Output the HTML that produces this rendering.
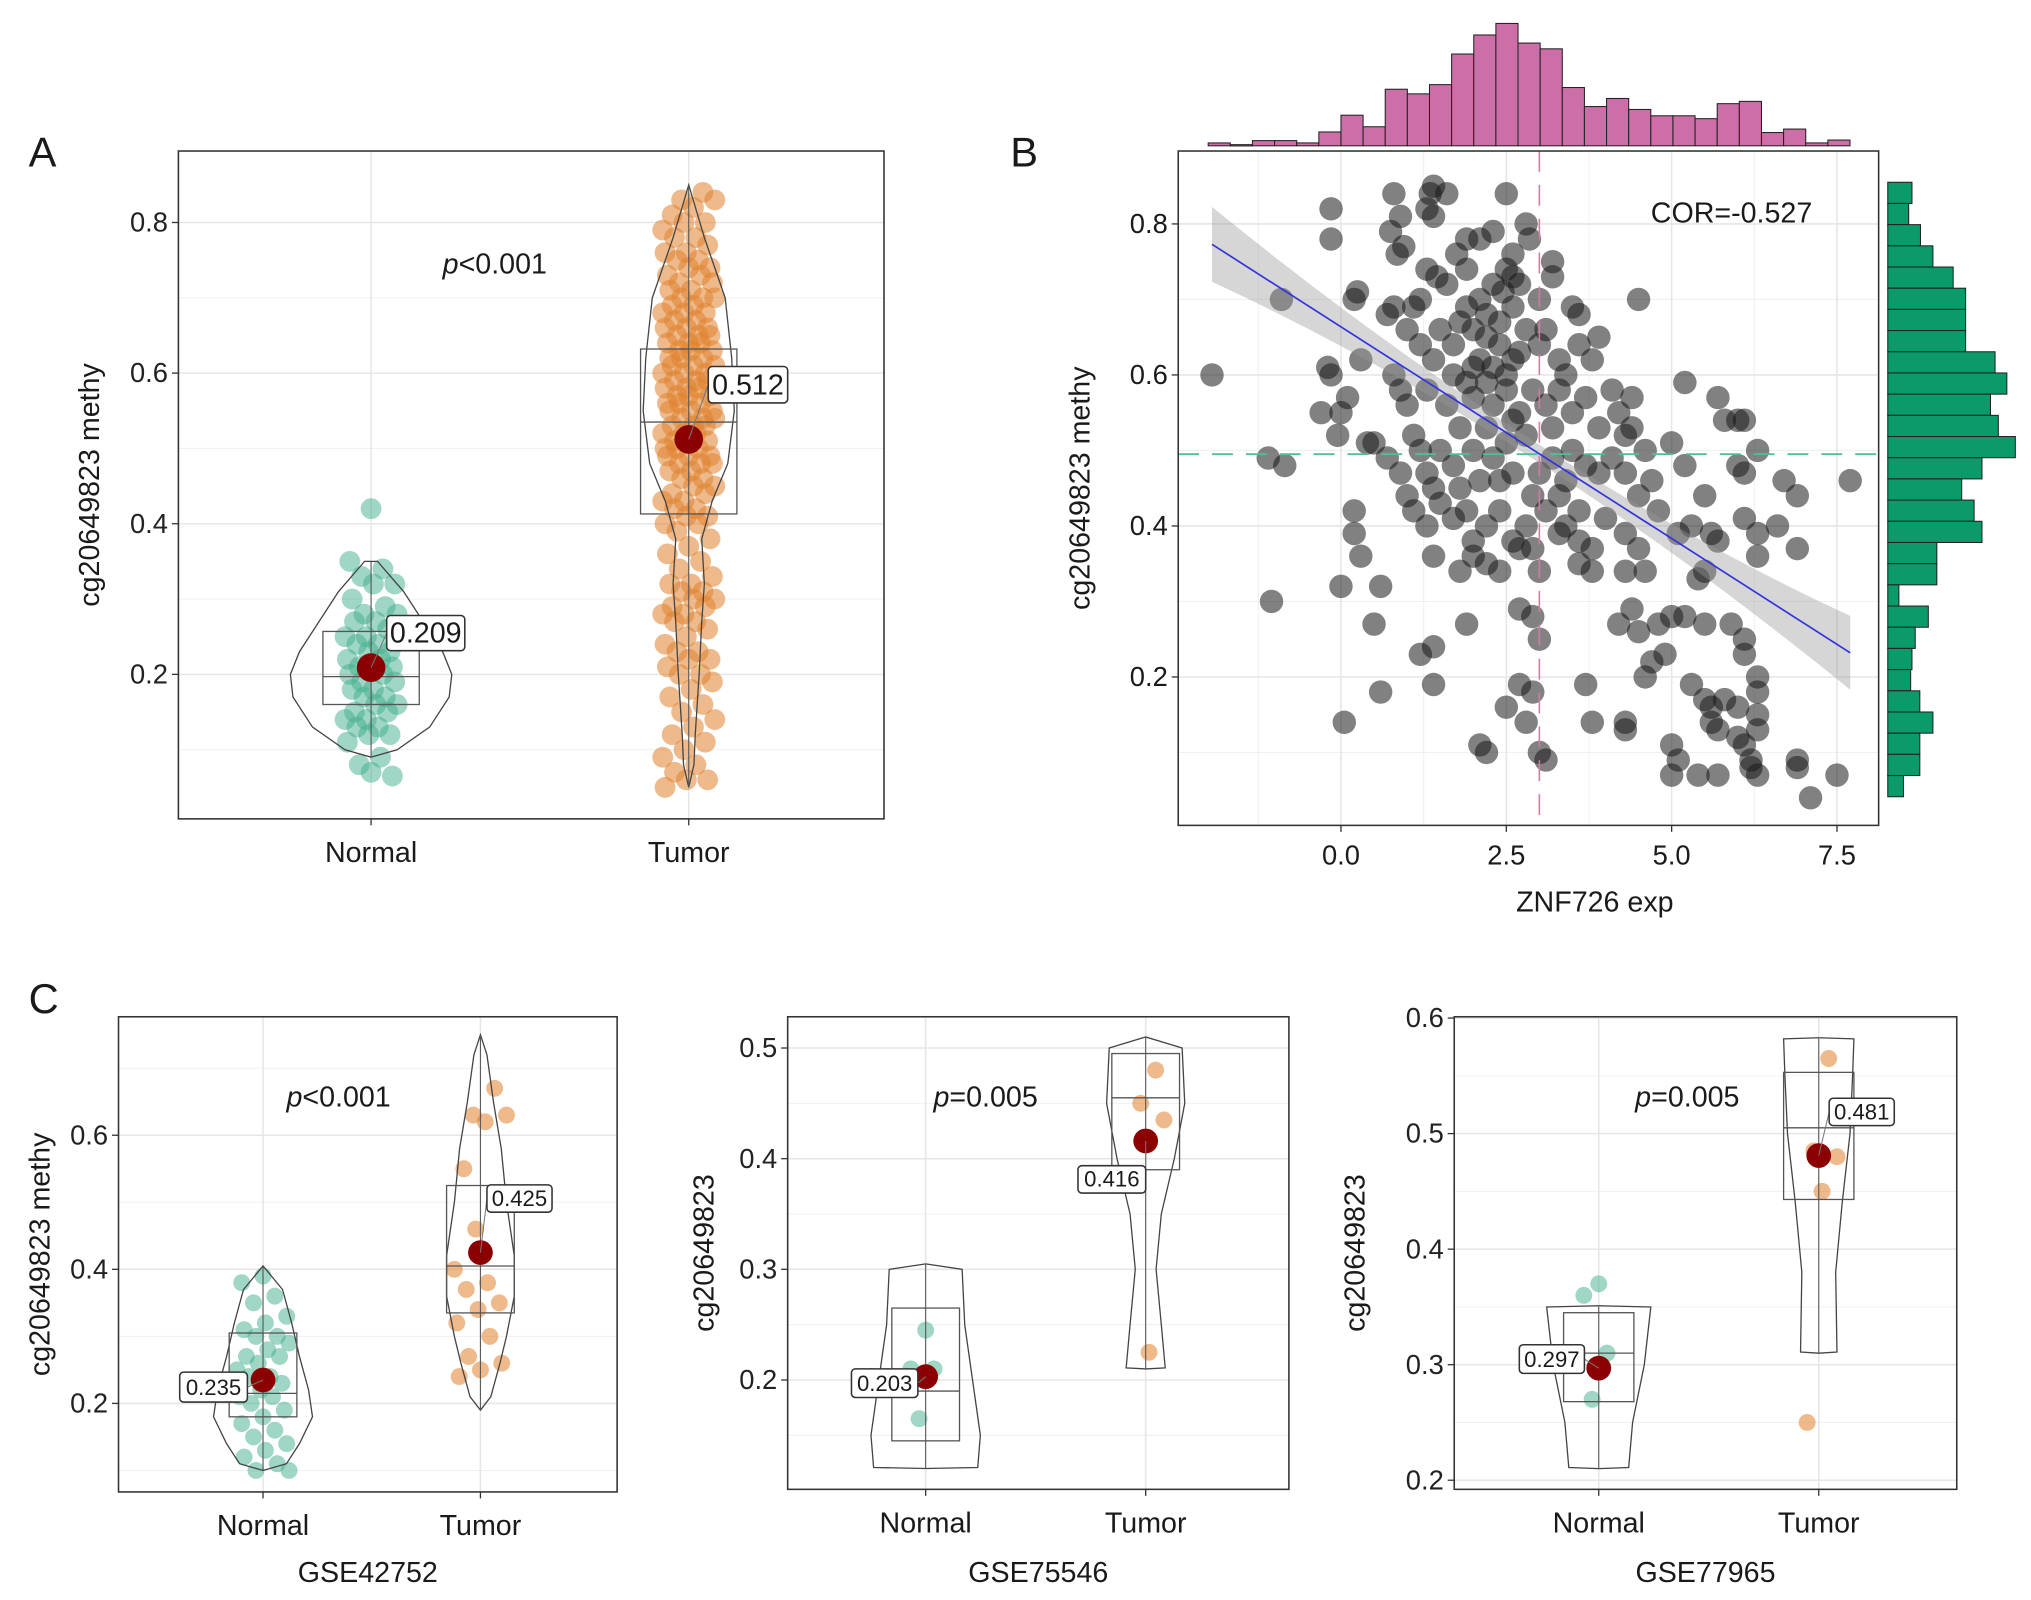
<!DOCTYPE html>
<html><head><meta charset="utf-8"><style>
html,body{margin:0;padding:0;background:#fff;}
svg{display:block;font-family:"Liberation Sans",sans-serif;}
</style></head><body>
<svg id="fig" width="2031" height="1600" viewBox="0 0 1560 1229" xmlns="http://www.w3.org/2000/svg"></svg>
<script>
// ---------- DATA ----------
const groupsA = ["Normal","Tumor"];
const normalA = [.42,.35,.34,.33,.32,.32,.30,.29,.28,.28,.27,.27,.26,.25,.25,.24,.24,.23,.23,.22,.22,.21,.21,.21,.20,.20,.19,.19,.18,.18,.17,.17,.16,.16,.15,.15,.14,.14,.13,.13,.12,.12,.11,.09,.08,.065,.07];
const tumorA = [0.84,0.83,0.83,0.82,0.81,0.80,0.80,0.79,0.78,0.78,0.77,0.76,0.76,0.75,0.75,0.74,0.74,0.73,0.73,0.72,0.72,0.71,0.71,0.70,0.70,0.70,0.69,0.69,0.68,0.68,0.68,0.67,0.67,0.66,0.66,0.66,0.65,0.65,0.65,0.64,0.64,0.64,0.63,0.63,0.63,0.62,0.62,0.62,0.61,0.61,0.61,0.60,0.60,0.60,0.59,0.59,0.59,0.58,0.58,0.58,0.57,0.57,0.57,0.56,0.56,0.56,0.55,0.55,0.55,0.54,0.54,0.54,0.53,0.53,0.53,0.52,0.52,0.52,0.51,0.51,0.51,0.50,0.50,0.50,0.49,0.49,0.49,0.48,0.48,0.48,0.47,0.47,0.46,0.46,0.45,0.45,0.44,0.44,0.43,0.43,0.42,0.42,0.41,0.41,0.40,0.40,0.39,0.38,0.37,0.36,0.35,0.34,0.33,0.32,0.32,0.31,0.31,0.30,0.30,0.29,0.29,0.28,0.28,0.27,0.27,0.26,0.25,0.24,0.23,0.23,0.22,0.22,0.21,0.20,0.20,0.19,0.18,0.17,0.16,0.15,0.14,0.13,0.12,0.11,0.10,0.09,0.08,0.07,0.06,0.06,0.05];
const statsA = [{q1:.16,med:.197,q3:.257,mean:.209,lo:.09,hi:.35},{q1:.413,med:.535,q3:.632,mean:.512,lo:.05,hi:.85}];
const violinA = [[[.09,0],[.10,20],[.13,45],[.17,60],[.20,62],[.23,55],[.27,40],[.31,25],[.35,5]],
                 [[.05,0],[.08,4],[.12,5],[.2,8],[.27,10],[.32,12],[.38,10],[.43,18],[.48,30],[.55,35],[.62,33],[.7,28],[.78,12],[.85,0]]];
const pTextA = "<0.001";

const histTopCounts = [5,2,9,9,5,24,53,33,98,90,106,159,192,212,178,168,101,68,82,63,52,52,47,73,77,23,29,5,10];
const histRightCounts = [37,32,50,69,100,119,119,119,164,182,157,169,195,144,113,132,144,75,75,17,62,42,37,35,49,69,49,49,24];
const xTicksB = [0,2.5,5,7.5];
const yTicksB = [0.2,0.4,0.6,0.8];
const corText = "COR=-0.527";
const regLine = [[-1.95,.773],[7.7,.232]];
const scatterPoints = [[-1.95,.60],[-1.1,.49],[-0.9,.70],[-0.85,.48],[-1.05,.30],[-0.15,.82],[-0.15,.78],[0.05,.14],[0.0,.32],[0.2,.42],[0.2,.39],[0.3,.36],[0.6,.32],[0.6,.18],[0.2,.70],[0.25,.71],[-0.2,.61],[-0.15,.60],[-0.3,.55],[0.0,.55],[0.1,.57],[0.3,.62],[-0.05,.52],[0.4,.51],[0.5,.51],[0.8,.84],[0.9,.81],[0.85,.76],[0.95,.77],[0.75,.79],[1.3,.82],[1.35,.84],[1.4,.85],[1.4,.81],[1.6,.84],[1.9,.78],[2.1,.78],[2.5,.84],[2.6,.76],[2.8,.80],[2.85,.78],[2.3,.79],[0.7,.68],[0.8,.69],[1.0,.66],[1.1,.69],[1.2,.70],[1.3,.74],[1.45,.73],[1.6,.72],[1.75,.76],[1.9,.74],[2.1,.70],[2.3,.72],[2.45,.71],[2.5,.74],[2.6,.73],[2.7,.72],[3.0,.70],[3.2,.75],[3.2,.73],[3.5,.69],[3.6,.68],[4.5,.70],[1.2,.64],[1.4,.62],[1.5,.66],[1.7,.64],[1.8,.67],[2.0,.66],[2.1,.62],[2.2,.68],[2.4,.64],[2.5,.60],[2.6,.62],[2.8,.66],[3.0,.64],[3.1,.66],[3.3,.62],[3.4,.60],[3.6,.64],[3.8,.62],[3.9,.65],[4.1,.58],[4.2,.55],[4.4,.57],[5.2,.59],[5.7,.57],[5.8,.54],[6.0,.54],[6.1,.54],[0.8,.60],[0.9,.58],[1.0,.56],[1.1,.52],[1.3,.58],[1.6,.56],[1.7,.60],[1.9,.59],[2.0,.57],[2.2,.59],[2.3,.56],[2.5,.58],[2.7,.55],[2.9,.58],[3.1,.56],[3.3,.58],[3.5,.55],[3.7,.57],[3.9,.53],[4.3,.52],[4.4,.53],[4.6,.50],[5.0,.51],[0.7,.49],[0.9,.47],[1.0,.44],[1.2,.50],[1.3,.47],[1.4,.45],[1.5,.50],[1.7,.48],[1.8,.45],[2.0,.50],[2.1,.46],[2.3,.49],[2.5,.51],[2.6,.47],[2.8,.52],[3.0,.47],[3.2,.49],[3.4,.46],[3.5,.50],[3.7,.48],[3.9,.47],[4.1,.49],[4.3,.47],[4.5,.44],[4.7,.46],[5.2,.48],[5.5,.44],[6.0,.48],[6.1,.47],[6.3,.50],[6.7,.46],[6.9,.44],[7.7,.46],[1.1,.42],[1.3,.40],[1.5,.43],[1.7,.41],[1.9,.42],[2.0,.38],[2.2,.40],[2.4,.42],[2.6,.38],[2.8,.40],[2.9,.37],[3.1,.42],[3.3,.39],[3.4,.40],[3.6,.38],[3.8,.37],[4.0,.41],[4.3,.39],[4.5,.37],[4.8,.42],[5.1,.39],[5.3,.40],[5.6,.39],[5.7,.38],[6.1,.41],[6.3,.39],[6.6,.40],[6.9,.37],[1.4,.36],[1.8,.34],[2.0,.36],[2.2,.35],[2.4,.34],[2.7,.37],[3.0,.34],[3.6,.35],[3.8,.34],[4.3,.34],[4.6,.34],[5.4,.33],[5.5,.34],[6.3,.36],[0.5,.27],[1.2,.23],[1.4,.24],[1.9,.27],[1.4,.19],[2.7,.29],[2.9,.28],[3.0,.25],[4.2,.27],[4.4,.29],[4.5,.26],[4.7,.22],[4.8,.27],[5.0,.28],[5.2,.28],[5.5,.27],[5.9,.27],[6.1,.25],[6.1,.23],[4.9,.23],[2.7,.19],[2.9,.18],[3.7,.19],[4.6,.20],[5.3,.19],[5.5,.17],[5.6,.16],[5.8,.17],[6.0,.16],[6.3,.20],[6.3,.18],[2.5,.16],[2.8,.14],[3.8,.14],[4.3,.14],[4.3,.13],[5.6,.14],[5.7,.13],[6.0,.12],[6.1,.11],[6.3,.15],[6.3,.13],[2.1,.11],[2.2,.10],[3.0,.10],[3.1,.09],[5.0,.11],[5.1,.09],[5.4,.07],[5.7,.07],[6.2,.08],[6.3,.07],[6.9,.09],[6.9,.08],[7.5,.07],[7.1,.04],[5.0,.07],[6.2,.09],[1.9,.69],[2.2,.65],[2.4,.67],[2.6,.69],[2.0,.61],[2.3,.61],[2.7,.63],[1.8,.53],[2.2,.53],[2.6,.54],[3.2,.53],[2.4,.46],[2.9,.44],[3.3,.44],[3.6,.42]];

const c1Normal = [.39,.38,.36,.35,.33,.32,.31,.30,.30,.29,.28,.27,.27,.26,.25,.24,.24,.23,.22,.21,.21,.20,.19,.18,.17,.16,.15,.14,.13,.12,.11,.10,.10];
const c1Tumor = [.67,.63,.63,.62,.55,.51,.46,.40,.38,.37,.35,.34,.32,.30,.27,.26,.25,.24];
const c2Normal = [.245,.21,.21,.165];
const c2Tumor = [.48,.45,.435,.225];
const c3Normal = [.37,.36,.31,.27];
const c3Tumor = [.565,.485,.48,.45,.25];
const pTextC = ["<0.001","=0.005","=0.005"];
const datasetNames = ["GSE42752","GSE75546","GSE77965"];

// ---------- HELPERS ----------
const svg = document.getElementById('fig');
const NS = "http://www.w3.org/2000/svg";
function mk(tag, at, parent){const e=document.createElementNS(NS,tag);for(const k in at)e.setAttribute(k,at[k]);(parent||svg).appendChild(e);return e;}
function txt(s,x,y,size,anchor,parent,extra){const t=mk('text',Object.assign({x:x,y:y,'font-size':size,'text-anchor':anchor||'middle',fill:'#1a1a1a'},extra||{}),parent);t.textContent=s;return t;}
function jit(i){return (((i*37+11)%23)-11)/11;}

function violinPath(dens, cx, ys){
  let l=[],r=[];
  dens.forEach(d=>{r.push([cx+d[1],ys(d[0])]);l.push([cx-d[1],ys(d[0])]);});
  const pts=r.concat(l.reverse());
  return 'M'+pts.map(p=>p[0].toFixed(1)+','+p[1].toFixed(1)).join('L')+'Z';
}

function boxPanel(cfg){
  const g=mk('g',{});
  
  
  const ys=v=>cfg.y0-(v-cfg.v0)*cfg.k;
  cfg.minor.forEach(v=>mk('line',{x1:cfg.L,x2:cfg.R,y1:ys(v),y2:ys(v),stroke:'#f0f0f0','stroke-width':0.8},g));
  cfg.ticks.forEach(v=>mk('line',{x1:cfg.L,x2:cfg.R,y1:ys(v),y2:ys(v),stroke:'#e6e6e6','stroke-width':1.2},g));
  cfg.cx.forEach(c=>mk('line',{x1:c,x2:c,y1:cfg.T,y2:cfg.B,stroke:'#e6e6e6','stroke-width':1.2},g));
  cfg.series.forEach((s,si)=>{
    s.forEach((v,i)=>{
      const c=mk('circle',{cx:cfg.cx[si]+jit(i+si*7)*cfg.jw,cy:ys(v),r:cfg.pr,fill:si?'#e0822e':'#3fae8c','fill-opacity':si?0.55:0.5},g);
      
      
    });
  });
  cfg.stats.forEach((st,si)=>{
    const cx=cfg.cx[si];
    const vp=mk('path',{d:violinPath(cfg.violin[si],cx,ys),fill:'none',stroke:'#444','stroke-width':1},g);
    
    
    mk('line',{x1:cx,x2:cx,y1:ys(st.lo),y2:ys(st.hi),stroke:'#555','stroke-width':0.8},g);
    const bx=mk('rect',{x:cx-cfg.bw,y:ys(st.q3),width:cfg.bw*2,height:ys(st.q1)-ys(st.q3),fill:'none',stroke:'#555','stroke-width':1},g);
    
    
    mk('line',{x1:cx-cfg.bw,x2:cx+cfg.bw,y1:ys(st.med),y2:ys(st.med),stroke:'#555','stroke-width':1},g);
    const m=mk('circle',{cx:cx,cy:ys(st.mean),r:cfg.mr,fill:'#8b0000'},g);
    
    
    const lb=cfg.labels[si];
    const lx=cx+lb.dx, ly=ys(st.mean)+lb.dy;
    mk('line',{x1:cx,y1:ys(st.mean),x2:lx+(lb.dx<0?lb.w:0),y2:ly+lb.h/2,stroke:'#777','stroke-width':0.8},g);
    const lr=mk('rect',{x:lx,y:ly,width:lb.w,height:lb.h,rx:3,fill:'#fff',stroke:'#333','stroke-width':1.2},g);
    
    
    txt(st.mean.toFixed(3),lx+lb.w/2,ly+lb.h*0.77,cfg.lfs,'middle',g);
  });
  mk('rect',{x:cfg.L,y:cfg.T,width:cfg.R-cfg.L,height:cfg.B-cfg.T,fill:'none',stroke:'#333','stroke-width':1.2},g);
  cfg.ticks.forEach(v=>{
    mk('line',{x1:cfg.L-5,x2:cfg.L,y1:ys(v),y2:ys(v),stroke:'#333','stroke-width':1},g);
    txt(String(v),cfg.L-8,ys(v)+7,21,'end',g,{fill:'#222'});
  });
  cfg.cx.forEach((c,i)=>{
    mk('line',{x1:c,x2:c,y1:cfg.B,y2:cfg.B+5,stroke:'#333','stroke-width':1},g);
    const t=txt(groupsA[i],c,cfg.B+33,22,'middle',g);
    
    
  });
  const yt=txt(cfg.ytitle,0,0,22,'middle',g,{transform:`translate(${cfg.ytx},${(cfg.T+cfg.B)/2}) rotate(-90)`});
  
  
  if(cfg.xtitle){const xt=txt(cfg.xtitle,(cfg.L+cfg.R)/2,1215,22,'middle',g);
    
    }
  const p=mk('text',{x:cfg.px,y:cfg.py,'font-size':22,fill:'#1a1a1a'},g);
  
  
  const pi=mk('tspan',{'font-style':'italic'},p);pi.textContent='p';
  const pr=mk('tspan',{},p);pr.textContent=cfg.ptext;
}

[["A",22,128],["B",776,128],["C",22,778]].forEach(l=>{
  const t=txt(l[0],l[1],l[2],32,'start');
  
  
});

boxPanel({name:'panel-a',L:137,R:679,T:116,B:629,y0:518,v0:0.2,k:578.5,ticks:[0.2,0.4,0.6,0.8],minor:[0.1,0.3,0.5,0.7],
  cx:[285,529],series:[normalA,tumorA],stats:statsA,violin:violinA,jw:20,pr:8,mr:11,bw:37,
  labels:[{dx:12,dy:-40,w:60,h:27},{dx:15,dy:-56,w:61,h:28}],lfs:22,
  ytitle:'cg20649823 methy',ytx:76,ptext:pTextA,px:340,py:210});

(function(){
  const g=mk('g',{});
  
  
  const L=905,R=1443,T=116,B=634;
  const xs=v=>1030+v*50.8, ys=v=>520-(v-0.2)*580;
  [-1.25,1.25,3.75,6.25].forEach(v=>mk('line',{x1:xs(v),x2:xs(v),y1:T,y2:B,stroke:'#f0f0f0','stroke-width':0.8},g));
  [0.1,0.3,0.5,0.7].forEach(v=>mk('line',{x1:L,x2:R,y1:ys(v),y2:ys(v),stroke:'#f0f0f0','stroke-width':0.8},g));
  xTicksB.forEach(v=>mk('line',{x1:xs(v),x2:xs(v),y1:T,y2:B,stroke:'#e6e6e6','stroke-width':1.2},g));
  yTicksB.forEach(v=>mk('line',{x1:L,x2:R,y1:ys(v),y2:ys(v),stroke:'#e6e6e6','stroke-width':1.2},g));
  scatterPoints.forEach(p=>{
    const c=mk('circle',{cx:xs(p[0]),cy:ys(p[1]),r:9,fill:'#1a1a1a','fill-opacity':0.55},g);
    
    
  });
  const x0=regLine[0][0],x1=regLine[1][0],y0=regLine[0][1],y1=regLine[1][1];
  const f=x=>y0+(y1-y0)*(x-x0)/(x1-x0);
  const xm=2.9; let up=[],dn=[];
  for(let i=0;i<=20;i++){const x=x0+(x1-x0)*i/20;const w=0.012+0.0016*(x-xm)*(x-xm);up.push([xs(x),ys(f(x)+w)]);dn.push([xs(x),ys(f(x)-w)]);}
  const band=mk('path',{d:'M'+up.concat(dn.reverse()).map(p=>p[0].toFixed(1)+','+p[1].toFixed(1)).join('L')+'Z',fill:'#999','fill-opacity':0.4},g);
  
  
  const rl=mk('line',{x1:xs(x0),y1:ys(y0),x2:xs(x1),y2:ys(y1),stroke:'#3333dd','stroke-width':1.3},g);
  
  
  const vd=mk('line',{x1:xs(3.0),x2:xs(3.0),y1:T,y2:B,stroke:'#d07aa8','stroke-width':1.2,'stroke-dasharray':'16,10'},g);
  
  
  const hd=mk('line',{x1:L,x2:R,y1:ys(0.495),y2:ys(0.495),stroke:'#4fbf99','stroke-width':1.4,'stroke-dasharray':'16,10'},g);
  
  
  mk('rect',{x:L,y:T,width:R-L,height:B-T,fill:'none',stroke:'#333','stroke-width':1.2},g);
  xTicksB.forEach(v=>{mk('line',{x1:xs(v),x2:xs(v),y1:B,y2:B+5,stroke:'#333'},g);txt(v.toFixed(1),xs(v),B+30,21,'middle',g);});
  yTicksB.forEach(v=>{mk('line',{x1:L-5,x2:L,y1:ys(v),y2:ys(v),stroke:'#333'},g);txt(String(v),L-8,ys(v)+7,21,'end',g);});
  const xt=txt('ZNF726 exp',1225,700,22,'middle',g);
  
  
  const yt=txt('cg20649823 methy',0,0,22,'middle',g,{transform:`translate(837,${(T+B)/2}) rotate(-90)`});
  
  
  const ct=txt(corText,1330,171,22,'middle',g);
  
  
  const hx0=928,hx1=1421,base=112,bw=(hx1-hx0)/histTopCounts.length,hmax=Math.max(...histTopCounts);
  histTopCounts.forEach((c,i)=>{
    const h=c/hmax*94;
    const r=mk('rect',{x:hx0+i*bw,y:base-h,width:bw,height:Math.max(h,1),fill:'#cc6fa8',stroke:'#222','stroke-width':0.8},g);
    
    
  });
  const ry0=140,ry1=612,rb=1450,rh=(ry1-ry0)/histRightCounts.length,rmax=Math.max(...histRightCounts);
  histRightCounts.forEach((c,i)=>{
    const w=c/rmax*98;
    const r=mk('rect',{x:rb,y:ry0+i*rh,width:w,height:rh,fill:'#0b9a6a',stroke:'#222','stroke-width':0.8},g);
    
    
  });
})();

boxPanel({name:'panel-c-gse42752',L:91,R:474,T:781,B:1146,y0:1078,v0:0.2,k:515,ticks:[0.2,0.4,0.6],minor:[0.1,0.3,0.5,0.7],
  cx:[202,369],series:[c1Normal,c1Tumor],
  stats:[{q1:.18,med:.215,q3:.305,mean:.235,lo:.1,hi:.405},{q1:.335,med:.405,q3:.525,mean:.425,lo:.19,hi:.75}],
  violin:[[[.1,0],[.11,18],[.14,28],[.18,38],[.22,35],[.27,28],[.32,22],[.37,15],[.405,0]],
          [[.19,0],[.21,8],[.26,15],[.3,20],[.36,26],[.42,26],[.5,20],[.58,16],[.65,10],[.72,5],[.75,0]]],
  jw:20,pr:6.5,mr:9.5,bw:26,
  labels:[{dx:-64,dy:-6,w:52,h:23},{dx:5,dy:-52,w:50,h:21}],lfs:17,
  ytitle:'cg20649823 methy',ytx:38,xtitle:datasetNames[0],ptext:pTextC[0],px:220,py:850});

boxPanel({name:'panel-c-gse75546',L:605,R:990,T:781,B:1144,y0:1060,v0:0.2,k:850,ticks:[0.2,0.3,0.4,0.5],minor:[0.15,0.25,0.35,0.45],
  cx:[711,880],series:[c2Normal,c2Tumor],
  stats:[{q1:.145,med:.19,q3:.265,mean:.203,lo:.12,hi:.305},{q1:.39,med:.455,q3:.495,mean:.416,lo:.21,hi:.51}],
  violin:[[[.12,0],[.121,40],[.15,42],[.2,36],[.25,30],[.3,28],[.305,0]],
          [[.21,0],[.211,15],[.25,12],[.3,8],[.35,12],[.4,22],[.45,30],[.5,28],[.51,0]]],
  jw:14,pr:6.5,mr:9.5,bw:26,
  labels:[{dx:-57,dy:-6,w:51,h:22},{dx:-52,dy:19,w:52,h:21}],lfs:17,
  ytitle:'cg20649823',ytx:548,xtitle:datasetNames[1],ptext:pTextC[1],px:717,py:850});

boxPanel({name:'panel-c-gse77965',L:1117,R:1503,T:781,B:1144,y0:1137,v0:0.2,k:887.5,ticks:[0.2,0.3,0.4,0.5,0.6],minor:[0.25,0.35,0.45,0.55],
  cx:[1228,1397],series:[c3Normal,c3Tumor],
  stats:[{q1:.268,med:.31,q3:.345,mean:.297,lo:.21,hi:.35},{q1:.443,med:.505,q3:.553,mean:.481,lo:.31,hi:.582}],
  violin:[[[.21,0],[.211,23],[.25,26],[.3,35],[.35,40],[.351,0]],
          [[.31,0],[.311,14],[.38,13],[.44,18],[.5,24],[.55,26],[.582,27],[.583,0]]],
  jw:14,pr:6.5,mr:9.5,bw:27,
  labels:[{dx:-61,dy:-18,w:50,h:22},{dx:8,dy:-44,w:50,h:21}],lfs:17,
  ytitle:'cg20649823',ytx:1048,xtitle:datasetNames[2],ptext:pTextC[2],px:1256,py:850});
</script>
</body></html>
